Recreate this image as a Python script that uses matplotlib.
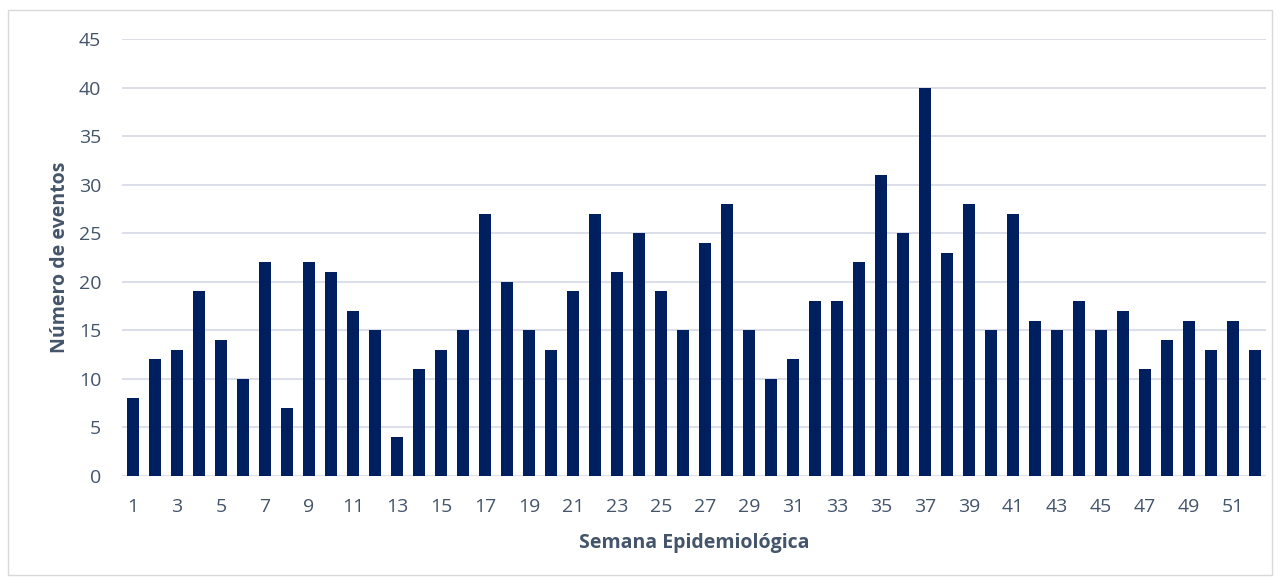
import matplotlib
matplotlib.use('Agg')
import matplotlib.pyplot as plt
from matplotlib.patches import Rectangle

weeks = list(range(1, 53))
events = [8, 12, 13, 19, 14, 10, 22, 7, 22, 21, 17, 15, 4, 11, 13, 15,
          27, 20, 15, 13, 19, 27, 21, 25, 19, 15, 24, 28, 15, 10, 12, 18,
          18, 22, 31, 25, 40, 23, 28, 15, 27, 16, 15, 18, 15, 17, 11, 14,
          16, 13, 16, 13]
xtick_weeks = weeks[::2]
yticks = list(range(0, 50, 5))

bar_color = '#001f5f'
text_color = '#44546a'
grid_color = '#d9dce8'

plt.rcParams['font.family'] = ['Open Sans', 'DejaVu Sans']

fig = plt.figure(figsize=(12.82, 5.8), dpi=100)
ax = fig.add_axes([0.0952, 0.1793, 0.8923, 0.7535])

ax.bar(weeks, events, width=0.55, color=bar_color, zorder=3)

ax.set_xlim(0.5, 52.5)
ax.set_ylim(0, 45)
ax.set_yticks(yticks)
ax.set_xticks(xtick_weeks)
ax.yaxis.grid(True, color=grid_color, linewidth=1.3, zorder=0)
ax.tick_params(axis='both', length=0, colors=text_color, labelsize=14)
ax.tick_params(axis='y', pad=15)
ax.tick_params(axis='x', pad=16)
for s in ax.spines.values():
    s.set_visible(False)

ax.set_xlabel('Semana Epidemiológica', fontsize=14, fontweight='bold',
              color=text_color, labelpad=12)
ax.set_ylabel('Número de eventos', fontsize=14, fontweight='bold',
              color=text_color, labelpad=6)

# light frame around the whole chart
fig.patches.append(Rectangle((8 / 1282, 5 / 580), 1264 / 1282, 565 / 580,
                             transform=fig.transFigure, fill=False,
                             edgecolor='#d9d9d9', linewidth=1))

fig.savefig('out.png', dpi=100)
